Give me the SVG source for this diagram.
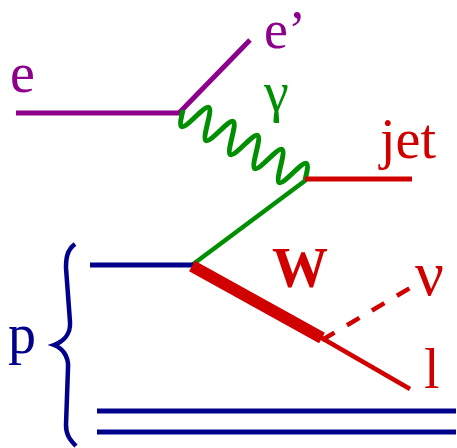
<svg xmlns="http://www.w3.org/2000/svg" width="457" height="448" viewBox="0 0 457 448">
<style>
.lbl{font-family:"Liberation Serif","Times New Roman",serif;font-size:56px}
.pur{stroke:#8c008c;fill:none;stroke-width:5}
.grn{stroke:#008f00;fill:none;stroke-width:4.5}
.red{stroke:#d00000;fill:none;stroke-width:4.5}
.blu{stroke:#00008c;fill:none;stroke-width:5}
</style>
<rect width="457" height="448" fill="#fff"/>
<g id="connectors">
  <line id="e-in" class="pur" x1="16" y1="113" x2="180" y2="113"/>
  <line id="e-out" class="pur" x1="179" y1="113" x2="250" y2="40"/>
  <path id="photon" class="grn" style="stroke-width:5" transform="translate(183,110) rotate(29.85)" d="M0,0 c2.295,7.684 4.489,15 7.035,15 s4.74,-7.316 7.035,-15 s4.489,-15 7.035,-15 s4.74,7.316 7.035,15 s4.489,15 7.035,15 s4.74,-7.316 7.035,-15 s4.489,-15 7.035,-15 s4.74,7.316 7.035,15 s4.489,15 7.035,15 s4.74,-7.316 7.035,-15 s4.489,-15 7.035,-15 s4.74,7.316 7.035,15 s4.489,15 7.035,15 s4.74,-7.316 7.035,-15 s4.489,-15 7.035,-15 s4.74,7.316 7.035,15 s4.489,15 7.035,15 s4.74,-7.316 7.035,-15 s4.489,-15 7.035,-15 s4.74,7.316 7.035,15"/>
  <line id="quark-exch" class="grn" x1="192" y1="265" x2="306" y2="180"/>
  <line id="jet-line" class="red" style="stroke-width:5" x1="305" y1="179" x2="412" y2="179"/>
  <line id="quark-in" class="blu" x1="90" y1="265" x2="193" y2="265"/>
  <line id="W-line" class="red" style="stroke-width:12" x1="192" y1="266" x2="322" y2="338"/>
  <line id="lepton" class="red" x1="320" y1="337" x2="410" y2="389"/>
  <line id="neutrino" class="red" stroke-dasharray="14.5 14.5" x1="322" y1="340" x2="410" y2="288"/>
  <line id="spect1" class="blu" x1="97" y1="411" x2="456" y2="411"/>
  <line id="spect2" class="blu" x1="97" y1="432" x2="456" y2="432"/>
  <path id="brace" class="blu" style="stroke-width:4.5" d="M75,244 C67,250 66,258 66,268 L70,322 C71,335 62,342 54,345 C62,348 69,356 68,368 L66,425 C66,435 70,440 76,446"/>
</g>
<g id="label-e"><text class="lbl" x="10" y="92" fill="#8c008c">e</text></g>
<g id="label-eprime"><text class="lbl" x="264" y="48" fill="#8c008c" style="font-size:54px">e’</text></g>
<g id="label-gamma"><text class="lbl" x="264" y="111" fill="#008f00">γ</text></g>
<g id="label-jet"><text class="lbl" x="380" y="158" fill="#d00000">jet</text></g>
<g id="label-W"><text class="lbl" x="272" y="287" fill="#d00000" font-weight="bold">W</text></g>
<g id="label-nu"><text class="lbl" x="415" y="295" fill="#d00000" style="font-size:64px">ν</text></g>
<g id="label-l"><text class="lbl" x="424" y="388" fill="#d00000">l</text></g>
<g id="label-p"><text class="lbl" x="8" y="353" fill="#00008c">p</text></g>
</svg>
